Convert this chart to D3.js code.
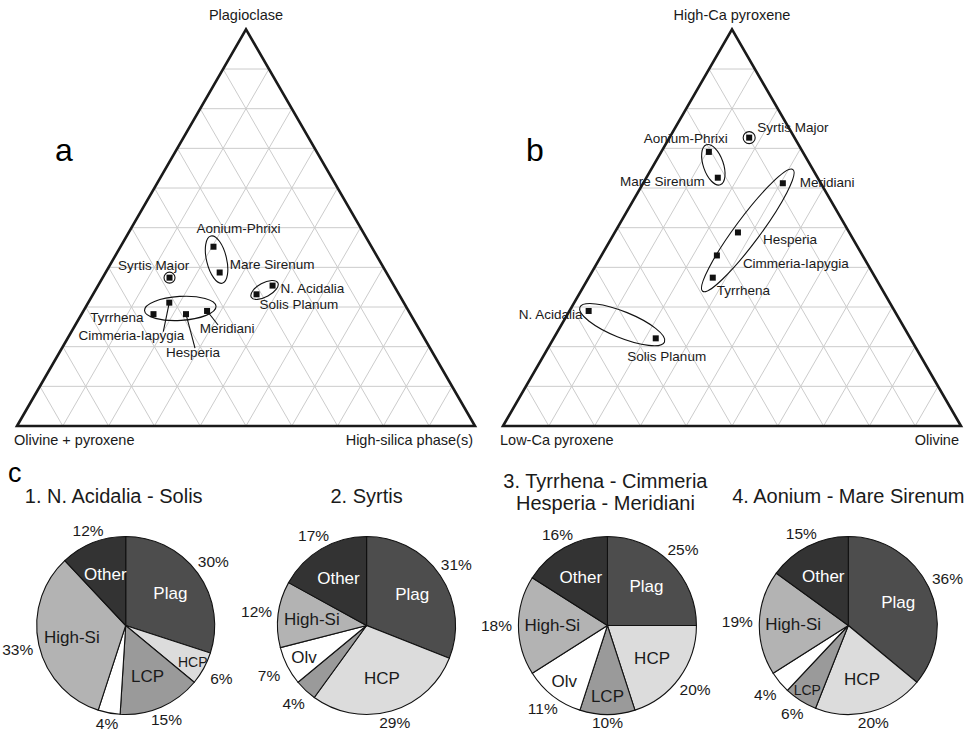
<!DOCTYPE html>
<html>
<head>
<meta charset="utf-8">
<script src="https://cdn.jsdelivr.net/npm/d3@7"></script>
<style>
  body { margin: 0; background: #fff; }
  svg { display: block; font-family: "Liberation Sans", Arial, sans-serif; }
</style>
</head>
<body>
<main></main>
<script>
const width = 965
const height = 733

// ternary data (percent)
const regions = ['Syrtis Major', 'Aonium-Phrixi', 'Mare Sirenum', 'N. Acidalia', 'Solis Planum',
  'Tyrrhena', 'Cimmeria-Iapygia', 'Hesperia', 'Meridiani']
const plagA = [37.4, 45.2, 38.7, 35.4, 33.2, 28.2, 31.1, 28.2, 29.0]
const highSiA = [14.6, 20.3, 24.9, 38.1, 35.7, 15.7, 17.7, 22.8, 27.0]
const hcpB = [72.7, 69.1, 62.6, 29.0, 22.1, 37.4, 43.0, 48.8, 61.2]
const olivineB = [17.4, 10.4, 15.6, 4.2, 22.3, 27.1, 25.2, 26.9, 30.5]
const groups = [[0], [1, 2], [3, 4], [5, 6, 7, 8]]

// pie data (percent)
const minerals = ['Plag', 'HCP', 'LCP', 'Olv', 'High-Si', 'Other']
const pieTitles = [['1. N. Acidalia - Solis'], ['2. Syrtis'],
  ['3. Tyrrhena - Cimmeria', 'Hesperia - Meridiani'], ['4. Aonium - Mare Sirenum']]
const pie1 = [30, 6, 15, 4, 33, 12]
const pie2 = [31, 29, 4, 7, 12, 17]
const pie3 = [25, 20, 10, 11, 18, 16]
const pie4 = [36, 20, 6, 4, 19, 15]

const mineralFill = d3.scaleOrdinal()
  .domain(minerals)
  .range(['#4d4d4d', '#dcdcdc', '#9a9a9a', '#ffffff', '#b3b3b3', '#333333'])

const svg = d3.select('main')
  .append('svg')
  .attr('width', width)
  .attr('height', height)

const side = 458
const baseY = 426

function drawTernary(x0, cfg) {
  const x = d3.scaleLinear().domain([0, 100]).range([x0, x0 + side])
  const y = d3.scaleLinear().domain([0, 100]).range([baseY, baseY - side * Math.sqrt(3) / 2])
  const pt = (top, right) => [x(right + top / 2), y(top)]
  const g = svg.append('g')

  // grid
  const lines = []
  for (let k = 10; k < 100; k += 10) {
    lines.push([pt(k, 0), pt(k, 100 - k)])
    lines.push([pt(0, k), pt(100 - k, k)])
    lines.push([pt(0, 100 - k), pt(100 - k, 0)])
  }
  g.selectAll('.grid')
    .data(lines)
    .enter()
    .append('line')
    .attr('x1', d => d[0][0]).attr('y1', d => d[0][1])
    .attr('x2', d => d[1][0]).attr('y2', d => d[1][1])
    .style('stroke', '#cccccc')
    .style('stroke-width', 1)

  g.append('path')
    .attr('d', d3.line()([pt(0, 0), pt(100, 0), pt(0, 100)]) + 'Z')
    .style('fill', 'none')
    .style('stroke', '#1a1a1a')
    .style('stroke-width', 2.6)

  // corner labels
  const corner = g.append('g').style('font-size', '14.5px').style('fill', '#1a1a1a')
  corner.append('text').attr('x', x(50)).attr('y', 20).attr('text-anchor', 'middle').text(cfg.axes[0])
  corner.append('text').attr('x', x0 - 3).attr('y', 445).text(cfg.axes[1])
  corner.append('text').attr('x', x0 + side - 2).attr('y', 445).attr('text-anchor', 'end').text(cfg.axes[2])

  g.append('text')
    .attr('x', cfg.letterX).attr('y', 161)
    .style('font-size', '32px')
    .text(cfg.letter)

  const pos = regions.map((r, i) => pt(cfg.top[i], cfg.right[i]))

  // group ellipses
  groups.forEach((grp, gi) => {
    const ps = grp.map(i => pos[i])
    const st = cfg.rings[gi]
    if (ps.length === 1) {
      g.append('circle')
        .attr('cx', ps[0][0]).attr('cy', ps[0][1]).attr('r', st.r)
        .style('fill', 'none').style('stroke', '#111').style('stroke-width', 1.1)
      return
    }
    let best = [ps[0], ps[1]]
    let dmax = 0
    ps.forEach(a => ps.forEach(b => {
      const d = Math.hypot(a[0] - b[0], a[1] - b[1])
      if (d > dmax) { dmax = d; best = a[0] < b[0] ? [a, b] : [b, a] }
    }))
    const cx = (d3.min(ps, p => p[0]) + d3.max(ps, p => p[0])) / 2
    const cy = (d3.min(ps, p => p[1]) + d3.max(ps, p => p[1])) / 2
    const ang = Math.atan2(best[1][1] - best[0][1], best[1][0] - best[0][0]) * 180 / Math.PI
    g.append('ellipse')
      .attr('cx', 0).attr('cy', 0)
      .attr('rx', dmax / 2 + st.pad).attr('ry', st.minor)
      .attr('transform', `translate(${cx},${cy}) rotate(${ang})`)
      .style('fill', 'none').style('stroke', '#111').style('stroke-width', 1.1)
  })

  // leader lines
  regions.forEach((r, i) => {
    const l = cfg.leaders[i]
    if (!l) return
    g.append('line')
      .attr('x1', pos[i][0]).attr('y1', pos[i][1])
      .attr('x2', pos[i][0] + l[0]).attr('y2', pos[i][1] + l[1])
      .style('stroke', '#111').style('stroke-width', 1.1)
  })

  g.selectAll('.pt')
    .data(pos)
    .enter()
    .append('rect')
    .attr('x', d => d[0] - 3).attr('y', d => d[1] - 3)
    .attr('width', 6).attr('height', 6)
    .style('fill', '#111')

  g.selectAll('.lab')
    .data(regions)
    .enter()
    .append('text')
    .attr('x', (d, i) => pos[i][0] + cfg.labels[i][0])
    .attr('y', (d, i) => pos[i][1] + cfg.labels[i][1])
    .attr('text-anchor', (d, i) => cfg.labels[i][2])
    .style('font-size', '13.5px')
    .style('fill', '#1a1a1a')
    .text(d => d)
}

drawTernary(17, {
  axes: ['Plagioclase', 'Olivine + pyroxene', 'High-silica phase(s)'],
  letter: 'a', letterX: 55,
  top: plagA, right: highSiA,
  labels: [[-16, -8, 'middle'], [-17, -14, 'start'], [10, -4, 'start'], [8, 7, 'start'], [3, 15, 'start'],
    [-10, 8, 'end'], [-38, 37, 'middle'], [7, 43, 'middle'], [20, 22, 'middle']],
  leaders: [null, null, null, null, null, null, [-6, 29], [9, 34], [11, 14]],
  rings: [{ r: 5.5 }, { pad: 11, minor: 10 }, { pad: 6, minor: 7 }, { pad: 9, minor: 12 }]
})

drawTernary(503, {
  axes: ['High-Ca pyroxene', 'Low-Ca pyroxene', 'Olivine'],
  letter: 'b', letterX: 526,
  top: hcpB, right: olivineB,
  labels: [[8, -6, 'start'], [19, -9, 'end'], [-13, 8, 'end'], [-6, 8, 'end'], [11, 23, 'middle'],
    [4, 17, 'start'], [26, 13, 'start'], [25, 12, 'start'], [17, 4, 'start']],
  leaders: [],
  rings: [{ r: 6 }, { pad: 7.5, minor: 10 }, { pad: 9.5, minor: 13 }, { pad: 17, minor: 12.5 }]
})

// Pies
svg.append('text').attr('x', 8).attr('y', 482).style('font-size', '27px').text('c')

const pies = [pie1, pie2, pie3, pie4]
const radius = 89
const pieX = d3.scaleLinear().domain([0, 3]).range([125.7, 848.3])
const pieY = 625.5
const titleDx = [-12, 0, -2, 0]
const pieGen = d3.pie().sort(null).value(d => d.v)
const arc = d3.arc().innerRadius(0).outerRadius(radius)

pies.forEach((vals, pi) => {
  const cx = pieX(pi)
  const g = svg.append('g').attr('transform', `translate(${cx},${pieY})`)
  const data = pieGen(vals.map((v, i) => ({ v, name: minerals[i] })))

  const lines = pieTitles[pi]
  lines.forEach((t, li) => {
    svg.append('text')
      .attr('x', cx + titleDx[pi])
      .attr('y', lines.length === 1 ? 503 : 488 + li * 22)
      .attr('text-anchor', 'middle')
      .style('font-size', '20px')
      .style('fill', '#1a1a1a')
      .text(t)
  })

  g.selectAll('path')
    .data(data)
    .enter()
    .append('path')
    .attr('d', arc)
    .style('fill', d => mineralFill(d.data.name))
    .style('stroke', '#111')
    .style('stroke-width', 1.1)

  const mid = d => (d.startAngle + d.endAngle) / 2
  const innerR = d => radius * (d.data.v < 7 ? 0.86 : d.data.v <= 11 ? 0.79 : 0.62)
  const outerR = d => radius + 8 + 14 * Math.abs(Math.sin(mid(d)))

  // inside labels
  g.selectAll('.inner')
    .data(data.filter(d => d.data.v > 4))
    .enter()
    .append('text')
    .attr('x', d => Math.sin(mid(d)) * innerR(d))
    .attr('y', d => -Math.cos(mid(d)) * innerR(d))
    .attr('text-anchor', 'middle')
    .attr('dy', '0.35em')
    .style('font-size', d => d.data.v < 7 ? '14px' : '17px')
    .style('fill', d => (d.data.name === 'Plag' || d.data.name === 'Other') ? '#fff' : '#1a1a1a')
    .text(d => d.data.name)

  // percentages
  g.selectAll('.pct')
    .data(data)
    .enter()
    .append('text')
    .attr('x', d => Math.sin(mid(d)) * outerR(d))
    .attr('y', d => -Math.cos(mid(d)) * outerR(d))
    .attr('text-anchor', 'middle')
    .attr('dy', '0.35em')
    .style('font-size', '15.5px')
    .style('fill', '#1a1a1a')
    .text(d => d.data.v + '%')
})
</script>
</body>
</html>
